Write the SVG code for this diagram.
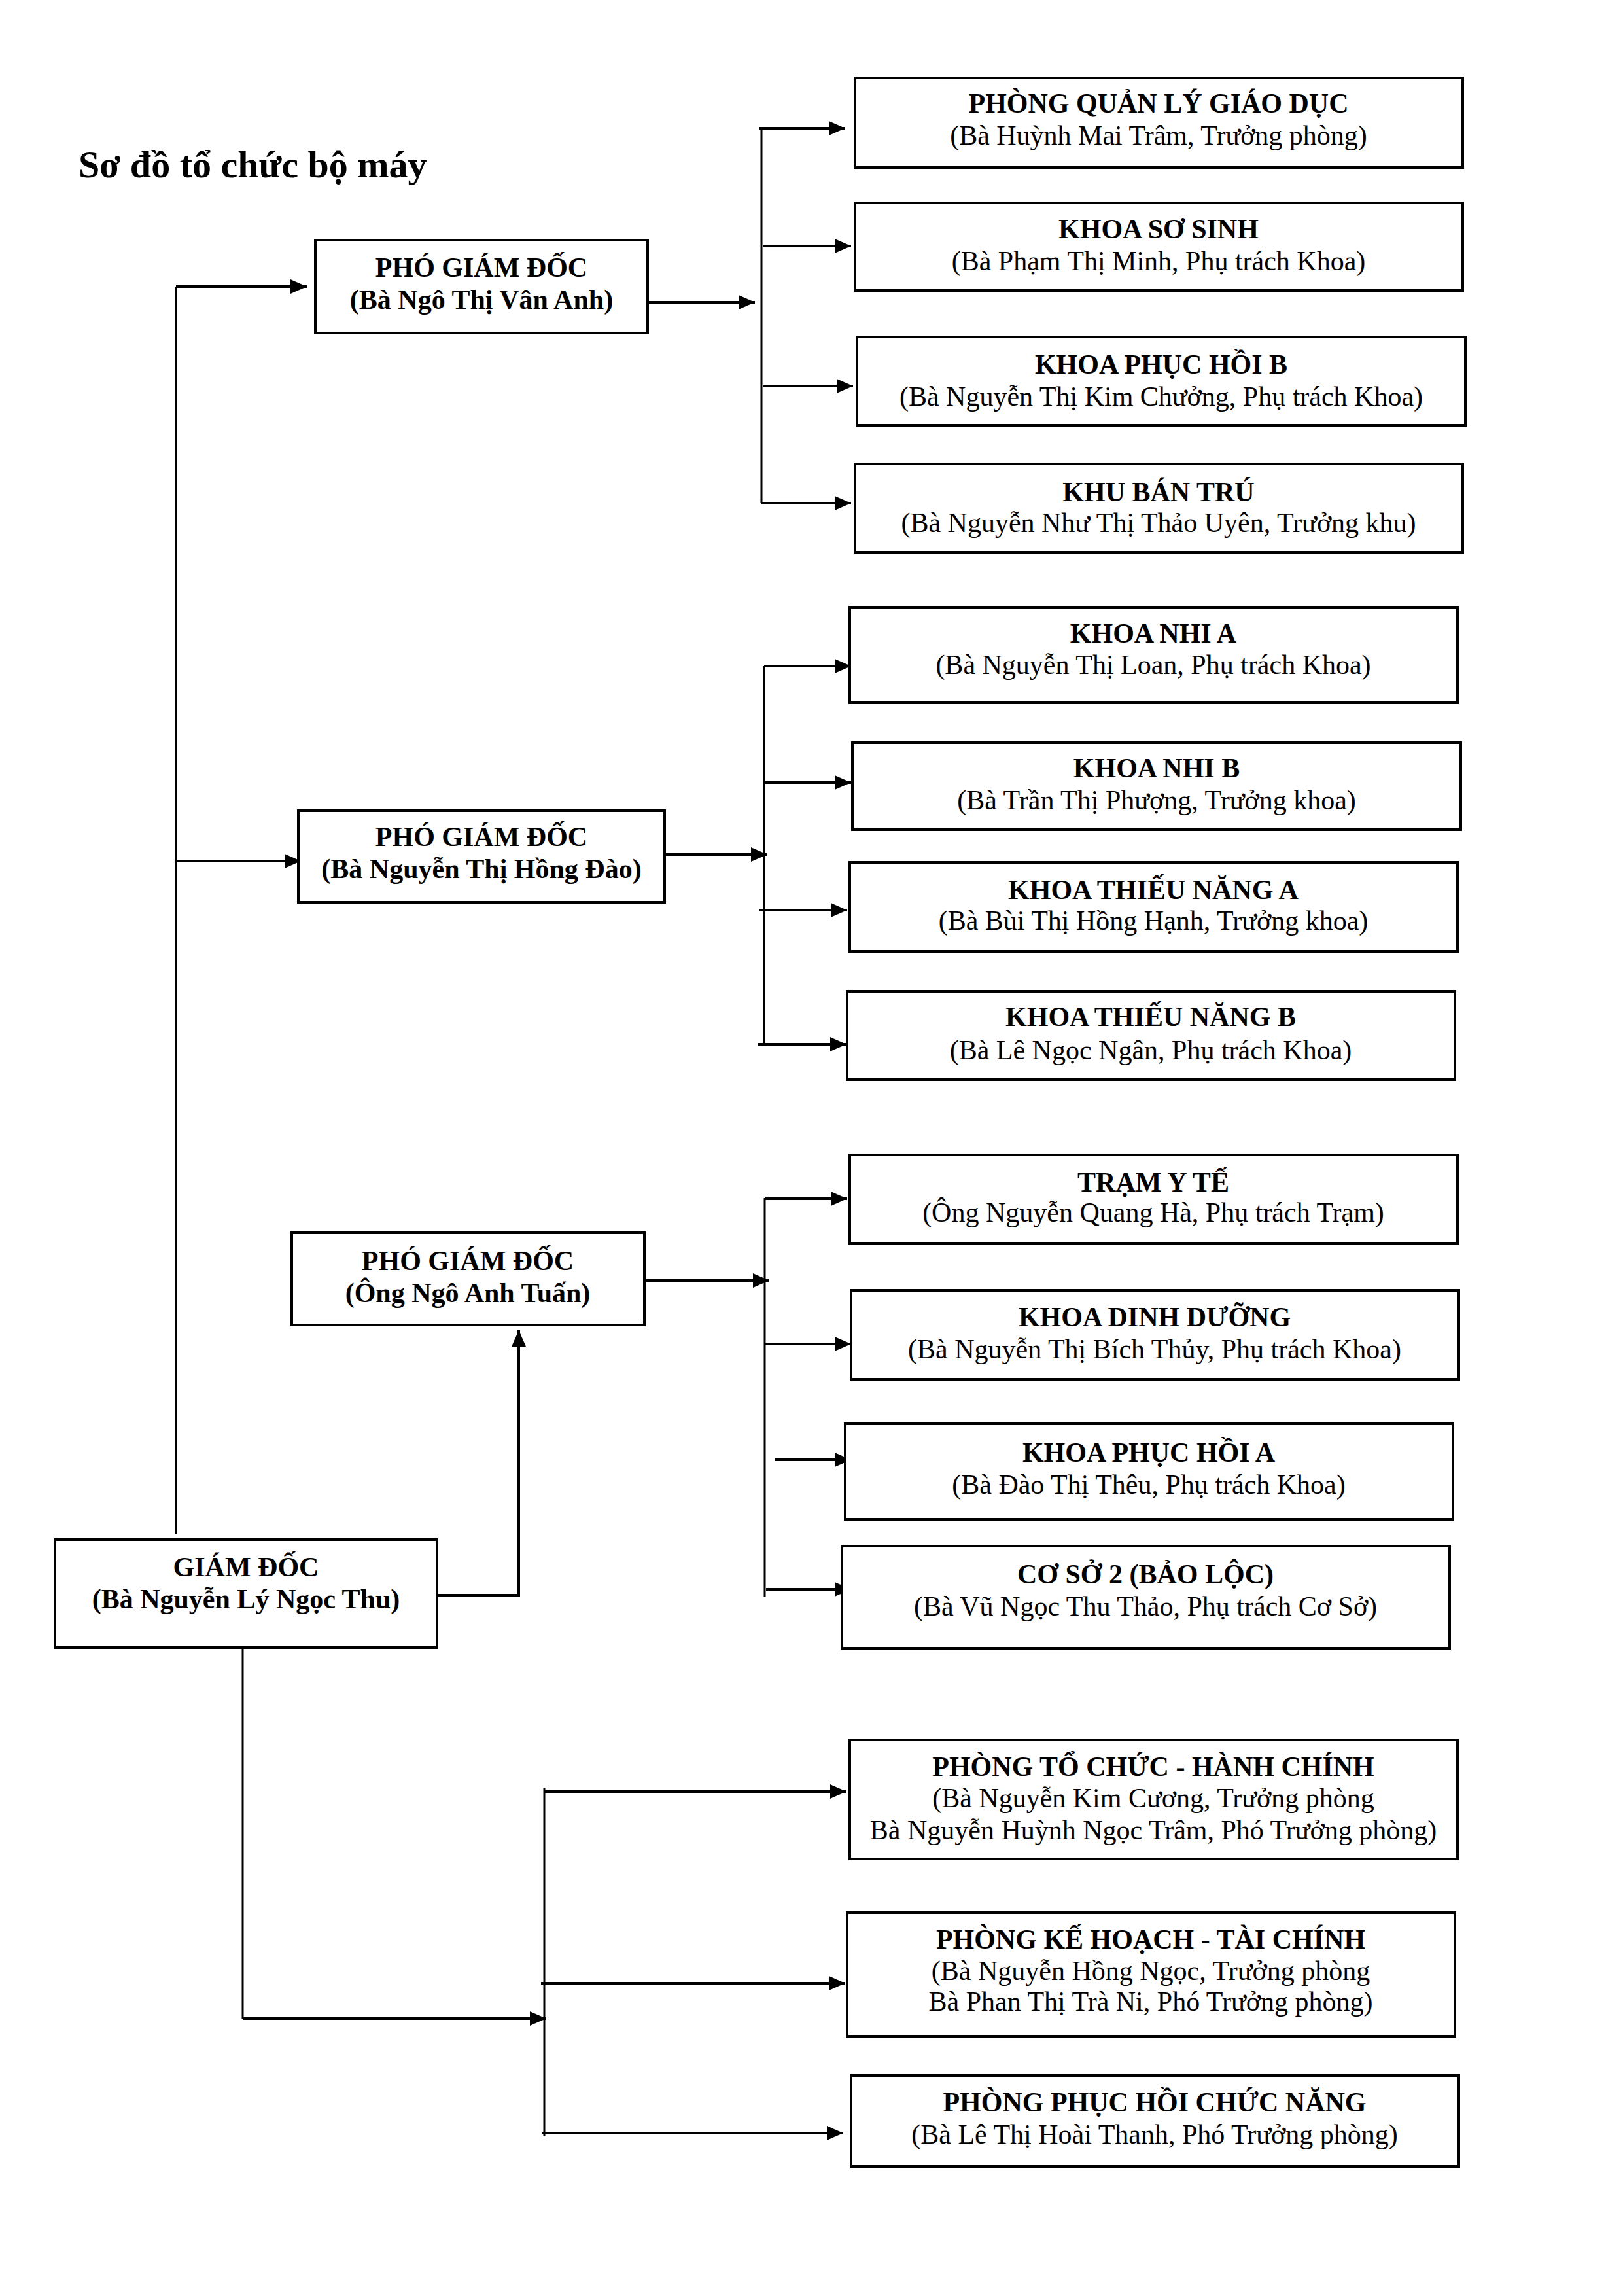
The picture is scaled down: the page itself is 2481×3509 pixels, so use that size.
<svg xmlns="http://www.w3.org/2000/svg" width="2481" height="3509" viewBox="0 0 2481 3509">
<style>
.box{fill:#fff;stroke:#000;stroke-width:4}
.t{font-family:"Liberation Serif","Times New Roman",serif;font-size:42px;text-anchor:middle;fill:#000}
.b{font-weight:bold}
.ttl{font-family:"Liberation Serif","Times New Roman",serif;font-size:58px;font-weight:bold;fill:#000}
.c{fill:none;stroke:#000;stroke-width:4}
.bus{fill:none;stroke:#000;stroke-width:3}
</style>
<defs>
<marker id="ah" markerUnits="userSpaceOnUse" markerWidth="26" markerHeight="24" refX="25" refY="11" orient="auto">
<path d="M0,0 L25,11 L0,22 z" fill="#000"/>
</marker>
</defs>
<rect width="2481" height="3509" fill="#fff"/>
<text class="ttl" x="120" y="271">Sơ đồ tổ chức bộ máy</text>

<g id="connectors">
<path class="bus" d="M269,2344 V438"/>
<path class="c" d="M269,438 H469" marker-end="url(#ah)"/>
<path class="c" d="M269,1316 H460" marker-end="url(#ah)"/>
<path class="c" d="M668,2438 H793 V2033" marker-end="url(#ah)"/>
<path class="bus" d="M371,2518 V3085"/>
<path class="c" d="M371,3085 H835" marker-end="url(#ah)"/>
<path class="c" d="M990,462 H1154" marker-end="url(#ah)"/>
<path class="c" d="M1016,1306 H1173" marker-end="url(#ah)"/>
<path class="c" d="M985,1957 H1176" marker-end="url(#ah)"/>
<path class="bus" d="M1164,195 V769"/>
<path class="c" d="M1160,196 H1292" marker-end="url(#ah)"/>
<path class="c" d="M1166,376 H1301" marker-end="url(#ah)"/>
<path class="c" d="M1166,590 H1304" marker-end="url(#ah)"/>
<path class="c" d="M1164,769 H1301" marker-end="url(#ah)"/>
<path class="bus" d="M1168,1018 V1597"/>
<path class="c" d="M1168,1018 H1301" marker-end="url(#ah)"/>
<path class="c" d="M1168,1196 H1301" marker-end="url(#ah)"/>
<path class="c" d="M1160,1391 H1295" marker-end="url(#ah)"/>
<path class="c" d="M1158,1596 H1294" marker-end="url(#ah)"/>
<path class="bus" d="M1169,1831 V2440"/>
<path class="c" d="M1169,1832 H1295" marker-end="url(#ah)"/>
<path class="c" d="M1169,2054 H1301" marker-end="url(#ah)"/>
<path class="c" d="M1184,2231 H1301" marker-end="url(#ah)"/>
<path class="c" d="M1171,2429 H1301" marker-end="url(#ah)"/>
<path class="bus" d="M832,2733 V3265"/>
<path class="c" d="M832,2738 H1294" marker-end="url(#ah)"/>
<path class="c" d="M827,3031 H1292" marker-end="url(#ah)"/>
<path class="c" d="M829,3260 H1289" marker-end="url(#ah)"/>
</g>

<g id="giam-doc">
<rect class="box" x="84" y="2353" width="584" height="165"/>
<text class="t b" x="376" y="2409">GIÁM ĐỐC</text>
<text class="t b" x="376" y="2458">(Bà Nguyễn Lý Ngọc Thu)</text>
</g>
<g id="pgd1">
<rect class="box" x="482" y="367" width="508" height="142"/>
<text class="t b" x="736" y="423">PHÓ GIÁM ĐỐC</text>
<text class="t b" x="736" y="472">(Bà Ngô Thị Vân Anh)</text>
</g>
<g id="pgd2">
<rect class="box" x="456" y="1239" width="560" height="140"/>
<text class="t b" x="736" y="1293">PHÓ GIÁM ĐỐC</text>
<text class="t b" x="736" y="1342">(Bà Nguyễn Thị Hồng Đào)</text>
</g>
<g id="pgd3">
<rect class="box" x="446" y="1884" width="539" height="141"/>
<text class="t b" x="715" y="1941">PHÓ GIÁM ĐỐC</text>
<text class="t b" x="715" y="1990">(Ông Ngô Anh Tuấn)</text>
</g>

<g id="phong-quan-ly-giao-duc">
<rect class="box" x="1307" y="119" width="929" height="137"/>
<text class="t b" x="1771" y="172">PHÒNG QUẢN LÝ GIÁO DỤC</text>
<text class="t" x="1771" y="221">(Bà Huỳnh Mai Trâm, Trưởng phòng)</text>
</g>
<g id="khoa-so-sinh">
<rect class="box" x="1307" y="310" width="929" height="134"/>
<text class="t b" x="1771" y="364">KHOA SƠ SINH</text>
<text class="t" x="1771" y="413">(Bà Phạm Thị Minh, Phụ trách Khoa)</text>
</g>
<g id="khoa-phuc-hoi-b">
<rect class="box" x="1310" y="515" width="930" height="135"/>
<text class="t b" x="1775" y="571">KHOA PHỤC HỒI B</text>
<text class="t" x="1775" y="620">(Bà Nguyễn Thị Kim Chưởng, Phụ trách Khoa)</text>
</g>
<g id="khu-ban-tru">
<rect class="box" x="1307" y="709" width="929" height="135"/>
<text class="t b" x="1771" y="766">KHU BÁN TRÚ</text>
<text class="t" x="1771" y="813">(Bà Nguyễn Như Thị Thảo Uyên, Trưởng khu)</text>
</g>

<g id="khoa-nhi-a">
<rect class="box" x="1299" y="928" width="929" height="146"/>
<text class="t b" x="1763" y="982">KHOA NHI A</text>
<text class="t" x="1763" y="1030">(Bà Nguyễn Thị Loan, Phụ trách Khoa)</text>
</g>
<g id="khoa-nhi-b">
<rect class="box" x="1303" y="1135" width="930" height="133"/>
<text class="t b" x="1768" y="1188">KHOA NHI B</text>
<text class="t" x="1768" y="1237">(Bà Trần Thị Phượng, Trưởng khoa)</text>
</g>
<g id="khoa-thieu-nang-a">
<rect class="box" x="1299" y="1318" width="929" height="136"/>
<text class="t b" x="1763" y="1374">KHOA THIẾU NĂNG A</text>
<text class="t" x="1763" y="1421">(Bà Bùi Thị Hồng Hạnh, Trưởng khoa)</text>
</g>
<g id="khoa-thieu-nang-b">
<rect class="box" x="1295" y="1515" width="929" height="135"/>
<text class="t b" x="1759" y="1568">KHOA THIẾU NĂNG B</text>
<text class="t" x="1759" y="1619">(Bà Lê Ngọc Ngân, Phụ trách Khoa)</text>
</g>

<g id="tram-y-te">
<rect class="box" x="1299" y="1765" width="929" height="135"/>
<text class="t b" x="1763" y="1821">TRẠM Y TẾ</text>
<text class="t" x="1763" y="1867">(Ông Nguyễn Quang Hà, Phụ trách Trạm)</text>
</g>
<g id="khoa-dinh-duong">
<rect class="box" x="1301" y="1972" width="929" height="136"/>
<text class="t b" x="1765" y="2027">KHOA DINH DƯỠNG</text>
<text class="t" x="1765" y="2076">(Bà Nguyễn Thị Bích Thủy, Phụ trách Khoa)</text>
</g>
<g id="khoa-phuc-hoi-a">
<rect class="box" x="1292" y="2176" width="929" height="146"/>
<text class="t b" x="1756" y="2234">KHOA PHỤC HỒI A</text>
<text class="t" x="1756" y="2283">(Bà Đào Thị Thêu, Phụ trách Khoa)</text>
</g>
<g id="co-so-2">
<rect class="box" x="1287" y="2363" width="929" height="156"/>
<text class="t b" x="1751" y="2420">CƠ SỞ 2 (BẢO LỘC)</text>
<text class="t" x="1751" y="2469">(Bà Vũ Ngọc Thu Thảo, Phụ trách Cơ Sở)</text>
</g>

<g id="phong-to-chuc-hanh-chinh">
<rect class="box" x="1299" y="2659" width="929" height="182"/>
<text class="t b" x="1763" y="2714">PHÒNG TỔ CHỨC - HÀNH CHÍNH</text>
<text class="t" x="1763" y="2762">(Bà Nguyễn Kim Cương, Trưởng phòng</text>
<text class="t" x="1763" y="2811">Bà Nguyễn Huỳnh Ngọc Trâm, Phó Trưởng phòng)</text>
</g>
<g id="phong-ke-hoach-tai-chinh">
<rect class="box" x="1295" y="2923" width="929" height="189"/>
<text class="t b" x="1759" y="2978">PHÒNG KẾ HOẠCH - TÀI CHÍNH</text>
<text class="t" x="1759" y="3026">(Bà Nguyễn Hồng Ngọc, Trưởng phòng</text>
<text class="t" x="1759" y="3073">Bà Phan Thị Trà Ni, Phó Trưởng phòng)</text>
</g>
<g id="phong-phuc-hoi-chuc-nang">
<rect class="box" x="1301" y="3172" width="929" height="139"/>
<text class="t b" x="1765" y="3227">PHÒNG PHỤC HỒI CHỨC NĂNG</text>
<text class="t" x="1765" y="3276">(Bà Lê Thị Hoài Thanh, Phó Trưởng phòng)</text>
</g>
</svg>
